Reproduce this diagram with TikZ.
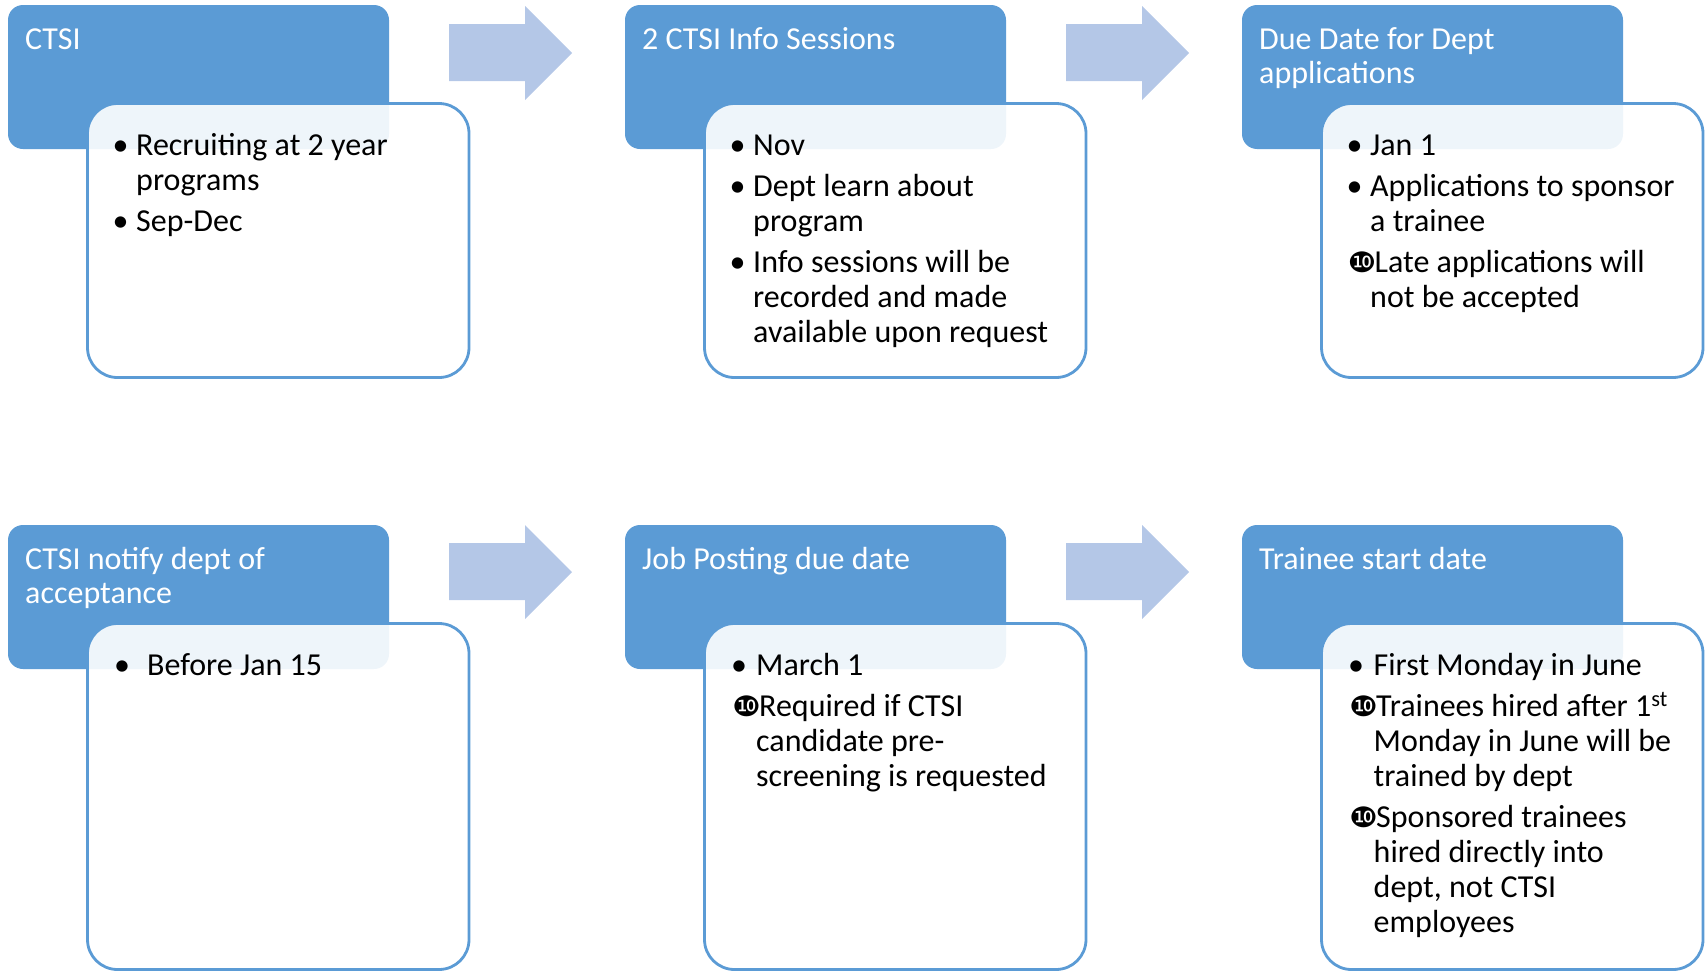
\documentclass[tikz,border=0pt]{standalone}
\usepackage{fontspec}
\setmainfont{Carlito}
\newfontfamily\dingfont{DejaVu Sans}
\usetikzlibrary{calc}
\definecolor{hdrblue}{HTML}{5B9BD5}
\definecolor{arrowblue}{HTML}{B4C7E7}
\newcommand\tenmark{\hspace{1pt}\makebox[27pt][l]{\scalebox{1.15}[1.0]{\dingfont\fontsize{28}{28}\selectfont ❿}}}
\newcommand\hangw{24pt}
\newcommand\bitem[1]{\par\noindent\hangindent=\hangw\hangafter=1\makebox[\hangw][l]{•}#1}
\newcommand\titem[1]{\par\noindent\hangindent=\hangw\hangafter=1\tenmark#1}
\newcommand\bodybox[2]{\parbox[t]{390pt}{\raggedright\setlength\parskip{6pt}\renewcommand\hangw{#1}#2}}
\newcommand\hdrbox[1]{\parbox[t]{360pt}{\raggedright #1}}
\tikzset{
  hdr/.style={fill=hdrblue, draw=none, rounded corners=15pt, minimum width=381pt,
    minimum height=144pt, anchor=north west, inner sep=0pt, outer sep=0pt},
  card/.style={draw=hdrblue, line width=2.8pt, fill=white, fill opacity=0.9,
    draw opacity=1, rounded corners=30pt, minimum width=381.5pt, anchor=north west,
    inner sep=0pt, outer sep=0pt},
  topcard/.style={card, minimum height=274pt},
  botcard/.style={card, minimum height=346pt},
  hdrtext/.style={anchor=base west, inner sep=0pt, text=white,
    font=\fontsize{32}{34.5}\selectfont},
  bodytext/.style={anchor=base west, inner sep=0pt, text=black,
    font=\fontsize{32}{35}\selectfont},
  flowarrow/.pic={\fill[arrowblue] (0,18) -- (76,18) -- (76,0) -- (123,47) -- (76,94)
    -- (76,75) -- (0,75) -- cycle;}
}
\begin{document}
\begin{tikzpicture}[x=1pt,y=-1pt]
\useasboundingbox (0,0) rectangle (1705,972);
% arrows
\pic (a1) at (449,6) {flowarrow};
\pic (a2) at (1066,6) {flowarrow};
\pic (a3) at (449,525) {flowarrow};
\pic (a4) at (1066,525) {flowarrow};
% headers
\node[hdr] (h1) at (8,5) {};
\node[hdr] (h2) at (625,5) {};
\node[hdr] (h3) at (1242,5) {};
\node[hdr] (h4) at (8,525) {};
\node[hdr] (h5) at (625,525) {};
\node[hdr] (h6) at (1242,525) {};
% header texts
\node[hdrtext] (ht1) at ($(h1.north west)+(17,44)$) {\hdrbox{CTSI}};
\node[hdrtext] (ht2) at ($(h2.north west)+(17,44)$) {\hdrbox{2 CTSI Info Sessions}};
\node[hdrtext] (ht3) at ($(h3.north west)+(17,44)$) {\hdrbox{Due Date for Dept\newline applications}};
\node[hdrtext] (ht4) at ($(h4.north west)+(17,44)$) {\hdrbox{CTSI notify dept of\newline acceptance}};
\node[hdrtext] (ht5) at ($(h5.north west)+(17,44)$) {\hdrbox{Job Posting due date}};
\node[hdrtext] (ht6) at ($(h6.north west)+(17,44)$) {\hdrbox{Trainee start date}};
% cards
\node[topcard] (c1) at (87.5,103.5) {};
\node[topcard] (c2) at (704.5,103.5) {};
\node[topcard] (c3) at (1321.5,103.5) {};
\node[botcard] (c4) at (87.5,623.5) {};
\node[botcard] (c5) at (704.5,623.5) {};
\node[botcard] (c6) at (1321.5,623.5) {};
% body texts
\node[bodytext] (t1) at ($(c1.north west)+(25,51.5)$) {\bodybox{23.5pt}{%
  \bitem{Recruiting at 2 year\newline programs}
  \bitem{Sep-Dec}}};
\node[bodytext] (t2) at ($(c2.north west)+(25,51.5)$) {\bodybox{23.5pt}{%
  \bitem{Nov}
  \bitem{Dept learn about\newline program}
  \bitem{Info sessions will be\newline recorded and made\newline available upon request}}};
\node[bodytext] (t3) at ($(c3.north west)+(25,51.5)$) {\bodybox{23.5pt}{%
  \bitem{Jan 1}
  \bitem{Applications to sponsor\newline a trainee}
  \titem{Late applications will\newline not be accepted}}};
\node[bodytext] (t4) at ($(c4.north west)+(26.5,51.5)$) {\bodybox{33pt}{%
  \bitem{Before Jan 15}}};
\node[bodytext] (t5) at ($(c5.north west)+(26.5,51.5)$) {\bodybox{25pt}{%
  \bitem{March 1}
  \titem{Required if CTSI\newline candidate pre-\newline screening is requested}}};
\node[bodytext] (t6) at ($(c6.north west)+(26.5,51.5)$) {\bodybox{25.5pt}{%
  \bitem{First Monday in June}
  \titem{Trainees hired after 1\textsuperscript{st}\newline Monday in June will be\newline trained by dept}
  \titem{Sponsored trainees\newline hired directly into\newline dept, not CTSI\newline employees}}};
\end{tikzpicture}
\end{document}
